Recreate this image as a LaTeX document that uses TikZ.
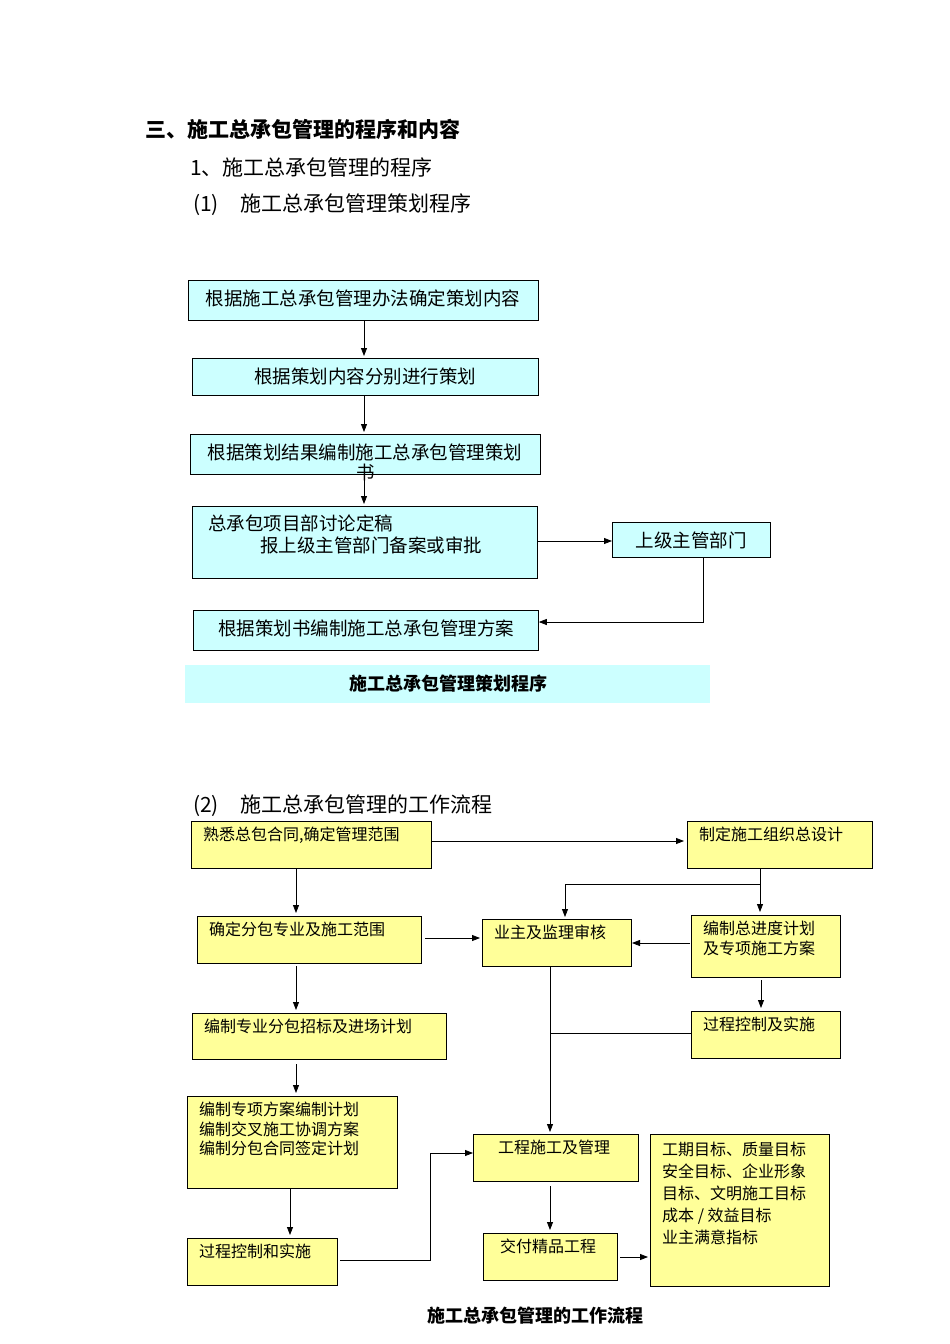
\documentclass[tikz,border=0pt]{standalone}
\usepackage{fontspec}
\setmainfont{Noto Sans CJK SC}
\usetikzlibrary{arrows.meta}
\definecolor{lcyan}{HTML}{CCFFFF}
\definecolor{lyel}{HTML}{FFFF99}
\begin{document}
\begin{tikzpicture}[x=1pt,y=-1pt,
  cbox/.style={draw,fill=lcyan,line width=0.8pt,anchor=north west,inner sep=0pt},
  ybox/.style={draw,fill=lyel,line width=0.8pt,anchor=north west,inner sep=0pt},
  ctext/.style={font=\fontsize{18.5}{20}\selectfont,inner sep=0pt},
  ytext/.style={font=\fontsize{16}{19.5}\selectfont,inner sep=0pt,anchor=north west,align=left},
  arr/.style={line width=0.8pt,-{Triangle[length=8pt,width=6pt]}},
  ln/.style={line width=0.8pt}]
\useasboundingbox (0,0) rectangle (950,1344);
\fill[white] (0,0) rectangle (950,1344);
% headings
\node[anchor=west,font=\fontsize{21}{22}\selectfont\bfseries,inner sep=0pt] (h1) at (145,129) {三、施工总承包管理的程序和内容};
\node[anchor=west,font=\fontsize{21}{22}\selectfont,inner sep=0pt] (h2) at (190,167) {1、施工总承包管理的程序};
\node[anchor=west,font=\fontsize{21}{22}\selectfont,inner sep=0pt] (h3) at (193,205) {(1)\quad 施工总承包管理策划程序};
\node[anchor=west,font=\fontsize{21}{22}\selectfont,inner sep=0pt] (h4) at (193,806) {(2)\quad 施工总承包管理的工作流程};
% top chart
\node[cbox,minimum width=350pt,minimum height=40pt] (a) at (188,280) {};
\node[ctext] (at) at (363,298) {根据施工总承包管理办法确定策划内容};
\node[cbox,minimum width=346pt,minimum height=37pt] (b) at (192,358) {};
\node[ctext] (bt) at (365,376) {根据策划内容分别进行策划};
\node[cbox,minimum width=350pt,minimum height=40pt] (c) at (190,434) {};
\node[ctext] (ct) at (365,452) {根据策划结果编制施工总承包管理策划};
\node[ctext] (ct2) at (366,472) {书};
\node[cbox,minimum width=345pt,minimum height=72pt] (d) at (192,506) {};
\node[ctext,anchor=west] (dt1) at (208,523) {总承包项目部讨论定稿};
\node[ctext,anchor=west] (dt2) at (260,545) {报上级主管部门备案或审批};
\node[cbox,minimum width=158pt,minimum height=35pt] (e) at (612,522) {};
\node[ctext] (et) at (691,540) {上级主管部门};
\node[cbox,minimum width=345pt,minimum height=40pt] (f) at (193,610) {};
\node[ctext] (ft) at (366,628) {根据策划书编制施工总承包管理方案};
\fill[lcyan] (185,665) rectangle (710,703);
\node[font=\fontsize{18}{20}\selectfont\bfseries,inner sep=0pt] (cap1) at (448,684) {施工总承包管理策划程序};
\draw[arr] (364,320) -- (364,356);
\draw[arr] (364,395) -- (364,432);
\draw[arr] (364,474) -- (364,504);
\draw[arr] (d.east |- 0,541) -- (e.west |- 0,541);
\draw[arr] (703,557) -- (703,622) -- (f.east |- 0,622);
% bottom chart
\node[ybox,minimum width=240pt,minimum height=47pt] (y1) at (191,821) {};
\node[ytext] (y1t) at (203,827) {熟悉总包合同,确定管理范围};
\node[ybox,minimum width=185pt,minimum height=47pt] (y2) at (687,821) {};
\node[ytext] (y2t) at (699,827) {制定施工组织总设计};
\node[ybox,minimum width=224pt,minimum height=47pt] (y3) at (197,916) {};
\node[ytext] (y3t) at (209,922) {确定分包专业及施工范围};
\node[ybox,minimum width=149pt,minimum height=47pt] (y4) at (482,919) {};
\node[ytext] (y4t) at (494,925) {业主及监理审核};
\node[ybox,minimum width=149pt,minimum height=62pt] (y5) at (691,915) {};
\node[ytext] (y5t) at (703,921) {编制总进度计划\\及专项施工方案};
\node[ybox,minimum width=254pt,minimum height=46pt] (y6) at (192,1013) {};
\node[ytext] (y6t) at (204,1019) {编制专业分包招标及进场计划};
\node[ybox,minimum width=149pt,minimum height=47pt] (y7) at (691,1011) {};
\node[ytext] (y7t) at (703,1017) {过程控制及实施};
\node[ybox,minimum width=210pt,minimum height=92pt] (y8) at (187,1096) {};
\node[ytext] (y8t) at (199,1102) {编制专项方案编制计划\\编制交叉施工协调方案\\编制分包合同签定计划};
\node[ybox,minimum width=165pt,minimum height=47pt] (y9) at (473,1134) {};
\node[ytext] (y9t) at (498,1140) {工程施工及管理};
\node[ybox,minimum width=179pt,minimum height=152pt] (y10) at (650,1134) {};
\node[ytext,font=\fontsize{16}{22}\selectfont] (y10t) at (662,1142) {工期目标、质量目标\\安全目标、企业形象\\目标、文明施工目标\\成本 / 效益目标\\业主满意指标};
\node[ybox,minimum width=150pt,minimum height=47pt] (y11) at (187,1238) {};
\node[ytext] (y11t) at (199,1244) {过程控制和实施};
\node[ybox,minimum width=134pt,minimum height=47pt] (y12) at (483,1233) {};
\node[ytext] (y12t) at (500,1239) {交付精品工程};
\node[font=\fontsize{18}{20}\selectfont\bfseries,inner sep=0pt] (cap2) at (535,1316) {施工总承包管理的工作流程};
\draw[arr] (431,841) -- (684,841);
\draw[arr] (296,868) -- (296,913);
\draw[arr] (760,868) -- (760,912);
\draw[arr] (760,884) -- (565,884) -- (565,917);
\draw[arr] (425,938) -- (480,938);
\draw[arr] (690,943) -- (632,943);
\draw[arr] (296,966) -- (296,1010);
\draw[arr] (761,980) -- (761,1008);
\draw[arr] (550,966) -- (550,1132);
\draw[ln] (691,1033) -- (550,1033);
\draw[arr] (296,1064) -- (296,1093);
\draw[arr] (290,1188) -- (290,1235);
\draw[arr] (340,1260) -- (430,1260) -- (430,1153) -- (473,1153);
\draw[arr] (550,1186) -- (550,1230);
\draw[arr] (620,1257) -- (648,1257);
\end{tikzpicture}
\end{document}
